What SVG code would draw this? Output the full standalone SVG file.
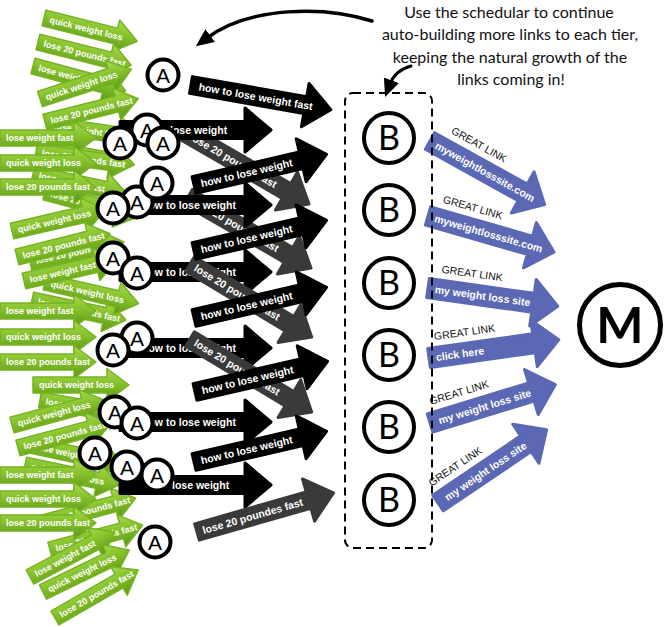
<svg xmlns="http://www.w3.org/2000/svg" xmlns:xlink="http://www.w3.org/1999/xlink" width="667" height="627" viewBox="0 0 667 627">
<defs>
<linearGradient id="gg" x1="0" y1="0" x2="0" y2="1">
<stop offset="0" stop-color="#a9da4c"/><stop offset="0.45" stop-color="#86c22c"/><stop offset="1" stop-color="#5a9616"/>
</linearGradient>
<path id="ga" d="M0,-8 H74 V-16.5 L96,0 L74,16.5 V8 H0 Z" fill="url(#gg)" stroke="#76b322" stroke-width="1.5" stroke-linejoin="round"/>
<path id="bk" d="M0,-8.5 H110 V-22 L136,0 L110,22 V8.5 H0 Z" fill="#000" stroke="#000" stroke-width="3" stroke-linejoin="round"/>
<path id="bh" d="M0,-8.5 H125 V-22 L151,0 L125,22 V8.5 H0 Z" fill="#000" stroke="#000" stroke-width="3" stroke-linejoin="round"/>
<path id="gy" d="M0,-8.5 H116 V-22 L142,0 L116,22 V8.5 H0 Z" fill="#3a3a3a" stroke="#3a3a3a" stroke-width="3" stroke-linejoin="round"/>
<path id="bl" d="M0,-9.5 H106 V-23.5 L131,0 L106,23.5 V9.5 H0 Z" fill="#5b68b4" stroke="#5b68b4" stroke-width="3" stroke-linejoin="round"/>
<marker id="ah" markerUnits="userSpaceOnUse" markerWidth="20" markerHeight="20" refX="4" refY="8" orient="auto">
<path d="M0,0 L18,8 L0,16 Z" fill="#000"/>
</marker>
<style>
.gt{font-family:"Liberation Sans",Arial,sans-serif;font-weight:bold;font-size:9px;fill:#fff}
.bt{font-family:"Liberation Sans",Arial,sans-serif;font-weight:bold;font-size:10.5px;fill:#fff}
.gl{font-family:"Liberation Sans",Arial,sans-serif;font-size:10.5px;fill:#111}
.ac{fill:#fff;stroke:#000;stroke-width:4}
.at{font-family:"Liberation Sans",Arial,sans-serif;font-size:21px;text-anchor:middle;fill:#000}
.bc{fill:#fff;stroke:#000;stroke-width:4}
.bb{font-family:Lato,"Liberation Sans",sans-serif;font-size:34px;text-anchor:middle;fill:#000}
.note{font-family:Lato,"Liberation Sans",sans-serif;font-size:16px;text-anchor:middle;fill:#111}
</style>
</defs>

<g id="green-back">
<g id="h1" transform="translate(48,125) rotate(8)"><use href="#ga"/><text class="gt" x="6" y="3.2">lose weight fast</text></g>
<g id="h2" transform="translate(40,148) rotate(10)"><use href="#ga"/><text class="gt" x="6" y="3.2">quick weight loss</text></g>
<g id="h3" transform="translate(36,152) rotate(8)"><use href="#ga"/><text class="gt" x="6" y="3.2">lose 20 pounds fast</text></g>
<g id="h4" transform="translate(33,174) rotate(12)"><use href="#ga"/><text class="gt" x="6" y="3.2">lose weight fast</text></g>
<g id="h5" transform="translate(45,192) rotate(15)"><use href="#ga"/><text class="gt" x="6" y="3.2">lose 20 pounds fast</text></g>
<g id="h6" transform="translate(30,262) rotate(-12)"><use href="#ga"/><text class="gt" x="6" y="3.2">lose 20 pounds fast</text></g>
<g id="h7" transform="translate(32,300) rotate(12)"><use href="#ga"/><text class="gt" x="6" y="3.2">lose 20 pounds fast</text></g>
<g id="h8" transform="translate(40,400) rotate(10)"><use href="#ga"/><text class="gt" x="6" y="3.2">lose 20 pounds fast</text></g>
<g id="h9" transform="translate(30,445) rotate(12)"><use href="#ga"/><text class="gt" x="6" y="3.2">lose weight fast</text></g>
<g id="h10" transform="translate(25,465) rotate(12)"><use href="#ga"/><text class="gt" x="6" y="3.2">quick weight loss</text></g>
<g id="h11" transform="translate(43,523) rotate(-15)"><use href="#ga"/><text class="gt" x="6" y="3.2">lose 20 pounds fast</text></g>
<g id="h12" transform="translate(50,550) rotate(-15)"><use href="#ga"/><text class="gt" x="6" y="3.2">lose 20 pounds fast</text></g>
</g>

<g id="green-front">
<g id="g1" transform="translate(44,18) rotate(14)"><use href="#ga"/><text class="gt" x="6" y="3.2">quick weight loss</text></g>
<g id="g2" transform="translate(38,42) rotate(14)"><use href="#ga"/><text class="gt" x="6" y="3.2">lose 20 pounds fast</text></g>
<g id="g3" transform="translate(33,66) rotate(15)"><use href="#ga"/><text class="gt" x="6" y="3.2">lose weight fast</text></g>
<g id="g4" transform="translate(40,99) rotate(-18)"><use href="#ga"/><text class="gt" x="6" y="3.2">quick weight loss</text></g>
<g id="g5" transform="translate(45,122) rotate(-14)"><use href="#ga"/><text class="gt" x="6" y="3.2">lose 20 pounds fast</text></g>
<g id="g6" transform="translate(0,138)"><use href="#ga"/><text class="gt" x="6" y="3.2">lose weight fast</text></g>
<g id="g7" transform="translate(0,163)"><use href="#ga"/><text class="gt" x="6" y="3.2">quick weight loss</text></g>
<g id="g8" transform="translate(0,187)"><use href="#ga"/><text class="gt" x="6" y="3.2">lose 20 pounds fast</text></g>
<g id="g9" transform="translate(12,231) rotate(-13)"><use href="#ga"/><text class="gt" x="6" y="3.2">quick weight loss</text></g>
<g id="g10" transform="translate(17,257) rotate(-14)"><use href="#ga"/><text class="gt" x="6" y="3.2">lose 20 pounds fast</text></g>
<g id="g12" transform="translate(45,282) rotate(13)"><use href="#ga"/><text class="gt" x="6" y="3.2">quick weight loss</text></g>
<g id="g11" transform="translate(24,281) rotate(-13)"><use href="#ga"/><text class="gt" x="6" y="3.2">lose weight fast</text></g>
<g id="g13" transform="translate(0,311)"><use href="#ga"/><text class="gt" x="6" y="3.2">lose weight fast</text></g>
<g id="g14" transform="translate(0,337)"><use href="#ga"/><text class="gt" x="6" y="3.2">quick weight loss</text></g>
<g id="g15" transform="translate(0,362)"><use href="#ga"/><text class="gt" x="6" y="3.2">lose 20 pounds fast</text></g>
<g id="g16" transform="translate(33,385)"><use href="#ga"/><text class="gt" x="6" y="3.2">quick weight loss</text></g>
<g id="g17" transform="translate(12,425) rotate(-15)"><use href="#ga"/><text class="gt" x="6" y="3.2">quick weight loss</text></g>
<g id="g18" transform="translate(18,448) rotate(-15)"><use href="#ga"/><text class="gt" x="6" y="3.2">lose 20 pounds fast</text></g>
<g id="g19" transform="translate(0,475)"><use href="#ga"/><text class="gt" x="6" y="3.2">lose weight fast</text></g>
<g id="g20" transform="translate(0,499)"><use href="#ga"/><text class="gt" x="6" y="3.2">quick weight loss</text></g>
<g id="g21" transform="translate(0,523)"><use href="#ga"/><text class="gt" x="6" y="3.2">lose 20 pounds fast</text></g>
<g id="g22" transform="translate(30,577) rotate(-28)"><use href="#ga"/><text class="gt" x="6" y="3.2">lose weight fast</text></g>
<g id="g23" transform="translate(43,592) rotate(-26)"><use href="#ga"/><text class="gt" x="6" y="3.2">quick weight loss</text></g>
<g id="g24" transform="translate(55,618) rotate(-30)"><use href="#ga"/><text class="gt" x="6" y="3.2">lose 20 pounds fast</text></g>
</g>

<g id="connectors">
<g id="k1" transform="translate(186,133) rotate(30)"><use href="#gy"/><text class="bt" x="6" y="3.8">lose 20 pounds fast</text></g>
<g id="k2" transform="translate(188,197) rotate(30)"><use href="#gy"/><text class="bt" x="6" y="3.8">lose 20 pounds fast</text></g>
<g id="r1" transform="translate(120,130)"><use href="#bh"/><text class="bt" x="50" y="3.8">lose weight</text></g>
<g id="r2" transform="translate(120,205)"><use href="#bh"/><text class="bt" x="22" y="3.8">how to lose weight</text></g>
<g id="r3" transform="translate(120,272)"><use href="#bh"/><text class="bt" x="22" y="3.8">how to lose weight</text></g>
<g id="k3" transform="translate(190,264) rotate(31)"><use href="#gy"/><text class="bt" x="6" y="3.8">lose 20 pounds fast</text></g>
<g id="r4" transform="translate(120,348)"><use href="#bh"/><text class="bt" x="22" y="3.8">how to lose weight</text></g>
<g id="k4" transform="translate(190,339) rotate(31)"><use href="#gy"/><text class="bt" x="6" y="3.8">lose 20 pounds fast</text></g>
<g id="r5" transform="translate(120,422)"><use href="#bh"/><text class="bt" x="22" y="3.8">how to lose weight</text></g>
<g id="r6" transform="translate(120,485)"><use href="#bh"/><text class="bt" x="52" y="3.8">lose weight</text></g>
<g id="ra" transform="translate(191,85) rotate(10)"><path d="M0,-8.5 H116 V-22 L142,0 L116,22 V8.5 H0 Z" fill="#000" stroke="#000" stroke-width="3" stroke-linejoin="round"/><text class="bt" x="8" y="3.8">how to lose weight fast</text></g>
<g id="rb" transform="translate(194,185) rotate(-13)"><use href="#bk"/><text class="bt" x="7" y="3.8">how to lose weight</text></g>
<g id="rc" transform="translate(194,251) rotate(-13)"><use href="#bk"/><text class="bt" x="7" y="3.8">how to lose weight</text></g>
<g id="rd" transform="translate(194,318) rotate(-13)"><use href="#bk"/><text class="bt" x="7" y="3.8">how to lose weight</text></g>
<g id="re" transform="translate(195,392) rotate(-13)"><use href="#bk"/><text class="bt" x="7" y="3.8">how to lose weight</text></g>
<g id="rf" transform="translate(194,462) rotate(-13)"><use href="#bk"/><text class="bt" x="7" y="3.8">how to lose weight</text></g>
<g id="k5" transform="translate(197,532) rotate(-16)"><use href="#gy"/><text class="bt" x="6" y="3.8">lose 20 poundes fast</text></g>

<g id="u1" transform="translate(430,141) rotate(29)"><use href="#bl"/><text class="gl" x="14" y="-17">GREAT LINK</text><text class="bt" x="7" y="4">myweightlosssite.com</text></g>
<g id="u2" transform="translate(428,216) rotate(16)"><use href="#bl"/><text class="gl" x="10" y="-17">GREAT LINK</text><text class="bt" x="7" y="4">myweightlosssite.com</text></g>
<g id="u3" transform="translate(428,288) rotate(8)"><use href="#bl"/><text class="gl" x="11" y="-17">GREAT LINK</text><text class="bt" x="7" y="4">my weight loss site</text></g>
<g id="u4" transform="translate(429,358) rotate(-8)"><use href="#bl"/><text class="gl" x="8" y="-17">GREAT LINK</text><text class="bt" x="7" y="4">click here</text></g>
<g id="u5" transform="translate(430,423) rotate(-17)"><use href="#bl"/><text class="gl" x="6" y="-17">GREAT LINK</text><text class="bt" x="9" y="4">my weight loss site</text></g>
<g id="u6" transform="translate(438,503) rotate(-34)"><use href="#bl"/><text class="gl" x="4" y="-17">GREAT LINK</text><text class="bt" x="9" y="4">my weight loss site</text></g>

<path id="c1" d="M372,21 C325,6 250,6 207,38" fill="none" stroke="#000" stroke-width="3.5" stroke-linecap="round" marker-end="url(#ah)"/>
<path id="c2" d="M411,66 C400,69 393,76 390,84" fill="none" stroke="#000" stroke-width="3" stroke-linecap="round" marker-end="url(#ah)"/>
</g>

<g id="tier1">
<g id="a1"><circle class="ac" cx="163" cy="75" r="15.5"/><text class="at" x="163" y="82.5">A</text></g>
<g id="a2"><circle class="ac" cx="147" cy="130" r="15.5"/><text class="at" x="147" y="137.5">A</text></g>
<g id="a3"><circle class="ac" cx="120" cy="143" r="15.5"/><text class="at" x="120" y="150.5">A</text></g>
<g id="a4"><circle class="ac" cx="163" cy="143" r="15.5"/><text class="at" x="163" y="150.5">A</text></g>
<g id="a5"><circle class="ac" cx="137" cy="202" r="15.5"/><text class="at" x="137" y="209.5">A</text></g>
<g id="a6"><circle class="ac" cx="157" cy="183" r="15.5"/><text class="at" x="157" y="190.5">A</text></g>
<g id="a7"><circle class="ac" cx="113" cy="208" r="15.5"/><text class="at" x="113" y="215.5">A</text></g>
<g id="a8"><circle class="ac" cx="113" cy="258" r="15.5"/><text class="at" x="113" y="265.5">A</text></g>
<g id="a9"><circle class="ac" cx="137" cy="273" r="15.5"/><text class="at" x="137" y="280.5">A</text></g>
<g id="a10"><circle class="ac" cx="137" cy="338" r="15.5"/><text class="at" x="137" y="345.5">A</text></g>
<g id="a11"><circle class="ac" cx="113" cy="350" r="15.5"/><text class="at" x="113" y="357.5">A</text></g>
<g id="a12"><circle class="ac" cx="115" cy="412" r="15.5"/><text class="at" x="115" y="419.5">A</text></g>
<g id="a13"><circle class="ac" cx="137" cy="423" r="15.5"/><text class="at" x="137" y="430.5">A</text></g>
<g id="a14"><circle class="ac" cx="95" cy="453" r="15.5"/><text class="at" x="95" y="460.5">A</text></g>
<g id="a15"><circle class="ac" cx="127" cy="467" r="15.5"/><text class="at" x="127" y="474.5">A</text></g>
<g id="a16"><circle class="ac" cx="157" cy="475" r="15.5"/><text class="at" x="157" y="482.5">A</text></g>
<g id="a17"><circle class="ac" cx="155" cy="542" r="15.5"/><text class="at" x="155" y="549.5">A</text></g>
</g>

<g id="tier2">
<rect id="box" x="345" y="93" width="87" height="455" rx="8" fill="none" stroke="#000" stroke-width="2" stroke-dasharray="8 5"/>
<g id="b1"><circle class="bc" cx="389" cy="138" r="25"/><text class="bb" x="389" y="150">B</text></g>
<g id="b2"><circle class="bc" cx="389" cy="210" r="25"/><text class="bb" x="389" y="222">B</text></g>
<g id="b3"><circle class="bc" cx="389" cy="283" r="25"/><text class="bb" x="389" y="295">B</text></g>
<g id="b4"><circle class="bc" cx="389" cy="355" r="25"/><text class="bb" x="389" y="367">B</text></g>
<g id="b5"><circle class="bc" cx="389" cy="427" r="25"/><text class="bb" x="389" y="439">B</text></g>
<g id="b6"><circle class="bc" cx="389" cy="500" r="25"/><text class="bb" x="389" y="512">B</text></g>
</g>

<g id="money"><circle cx="620" cy="325" r="40.5" fill="#fff" stroke="#000" stroke-width="5"/><text x="620" y="343" font-family="Lato, 'Liberation Sans', sans-serif" font-size="50" font-weight="bold" text-anchor="middle" fill="#000">M</text></g>

<g id="note">
<text class="note" x="509" y="18">Use the schedular to continue</text>
<text class="note" x="510" y="40">auto-building more links to each tier,</text>
<text class="note" x="510" y="63">keeping the natural growth of the</text>
<text class="note" x="511" y="85">links coming in!</text>
</g>
</svg>
